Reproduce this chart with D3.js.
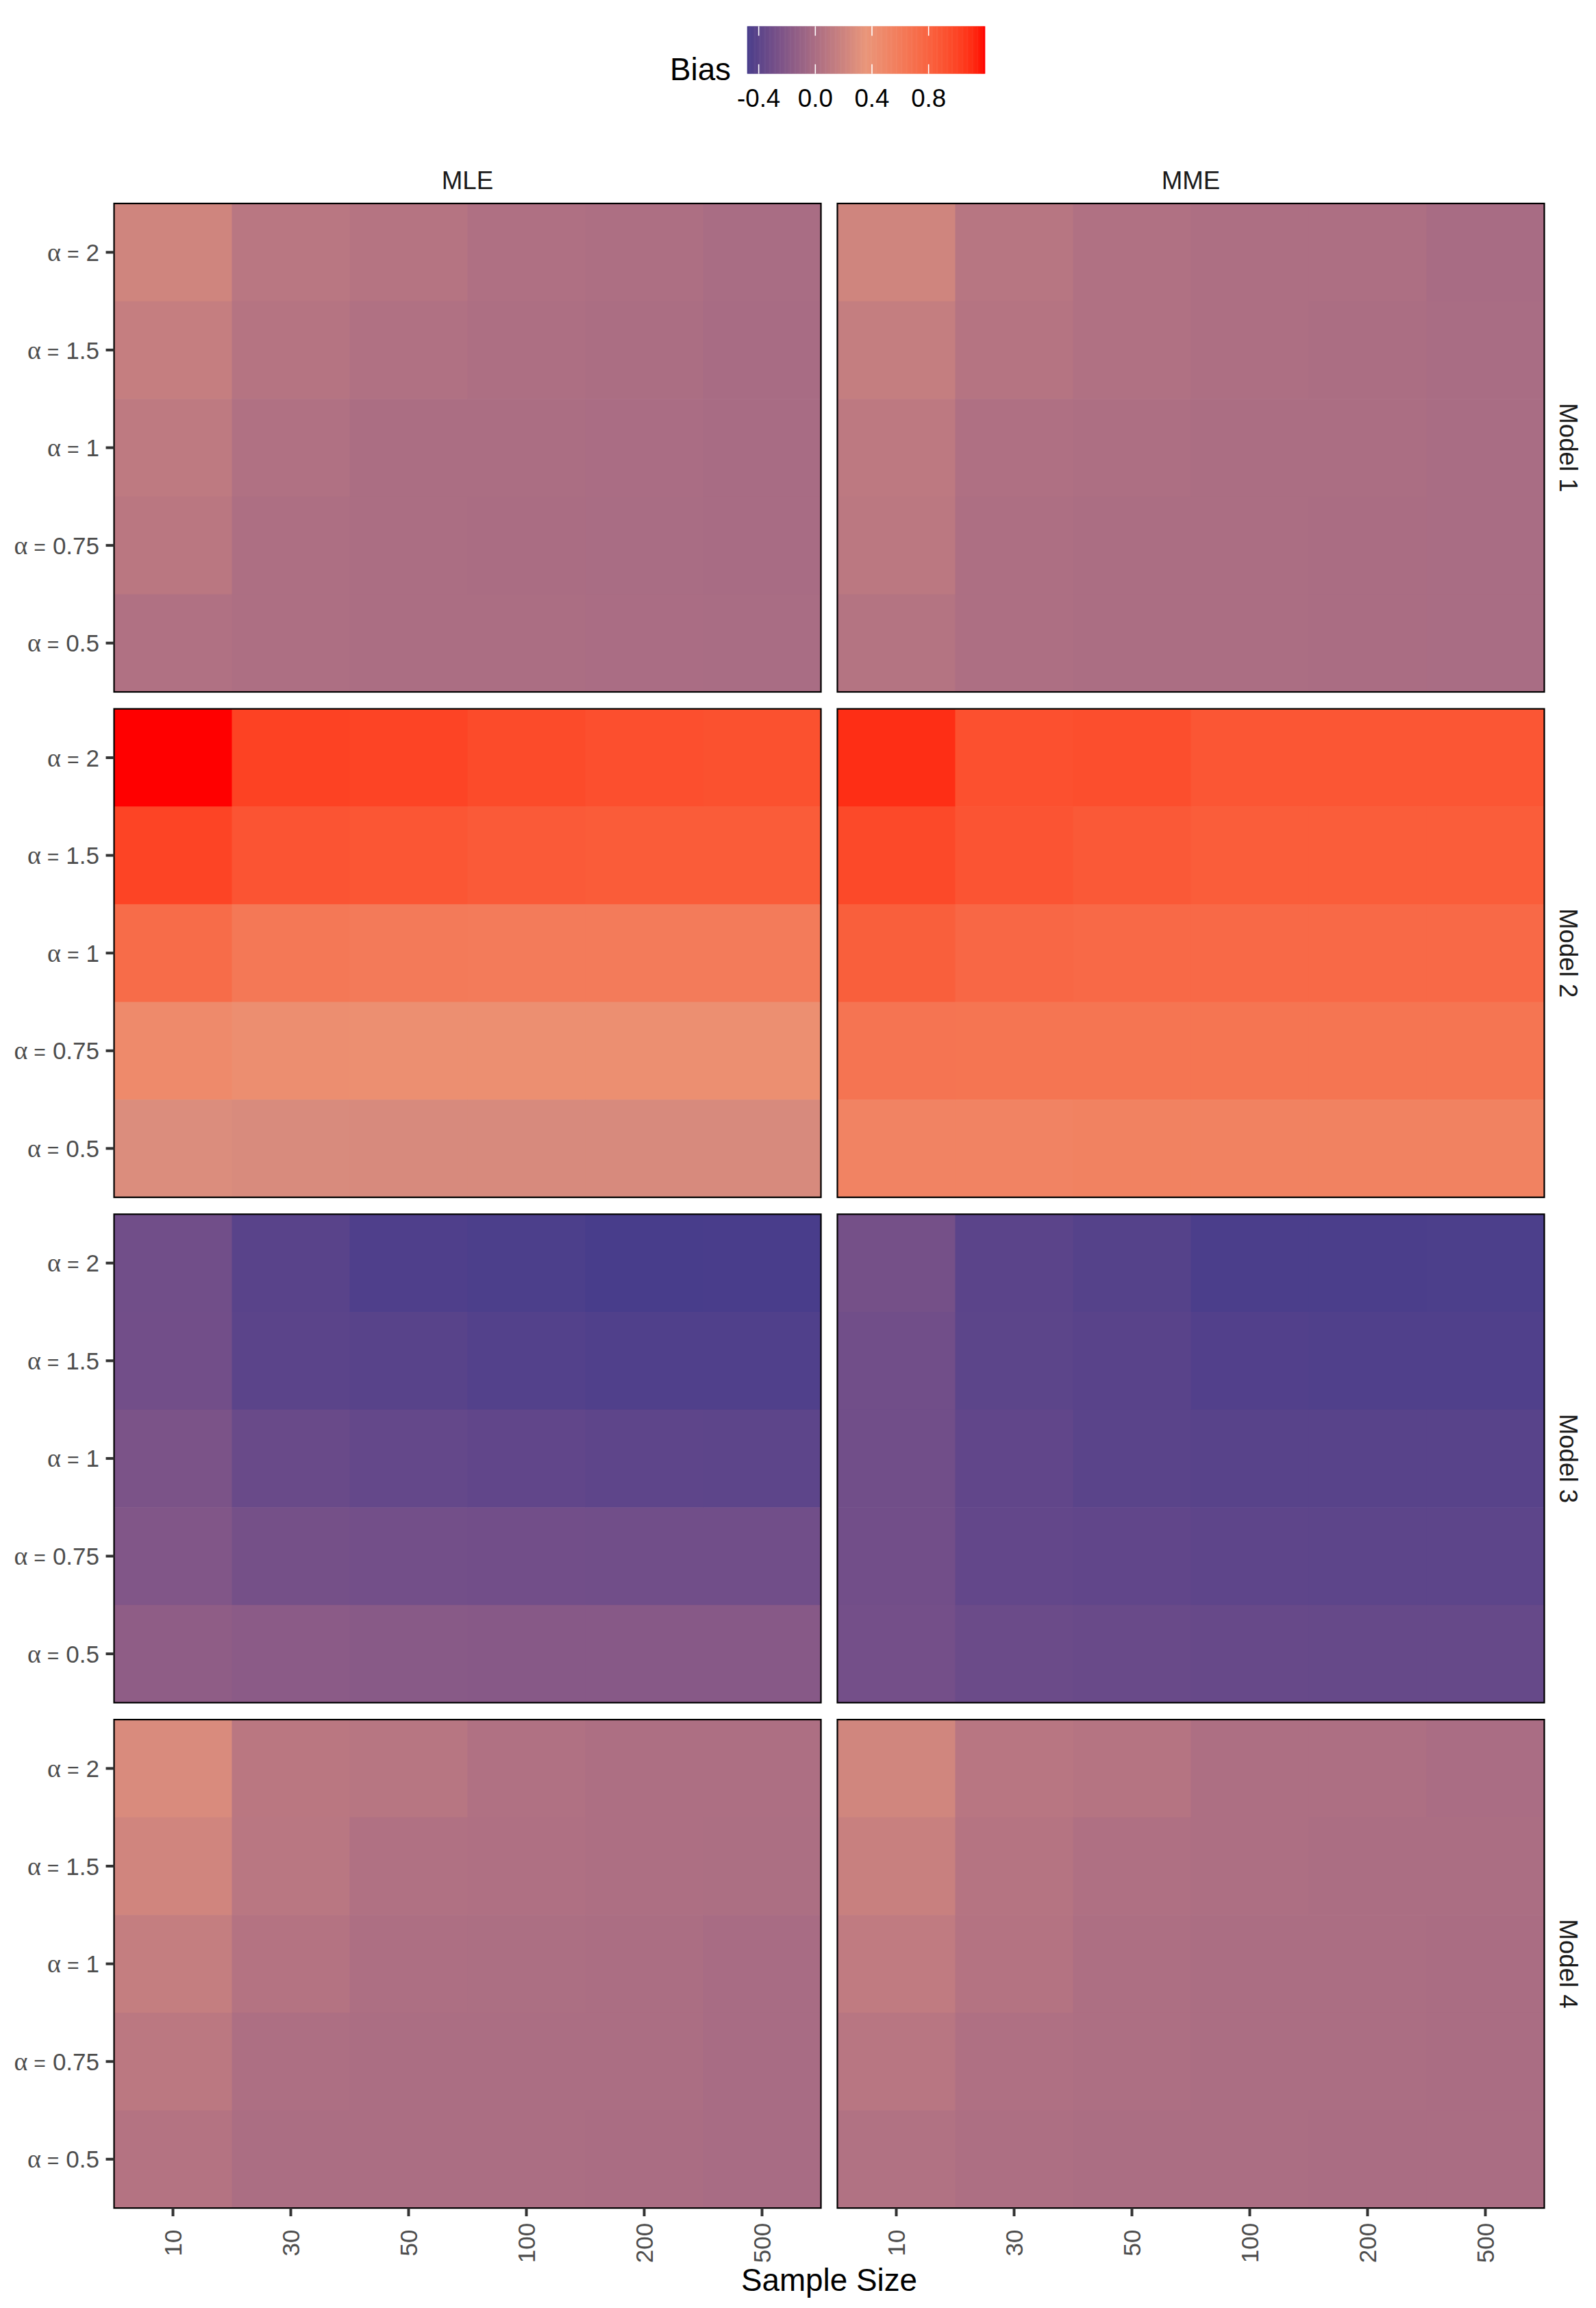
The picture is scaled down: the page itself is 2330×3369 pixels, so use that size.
<!DOCTYPE html>
<html>
<head>
<meta charset="utf-8">
<script src="https://cdn.jsdelivr.net/npm/d3@7/dist/d3.min.js"></script>
<style>
  html, body { margin: 0; padding: 0; background: #ffffff; }
  svg { display: block; }
  text { font-family: "Liberation Sans", Arial, Helvetica, sans-serif; }
</style>
</head>
<body>
<script>
// ---------------- data ----------------
const sampleSizes = ["10", "30", "50", "100", "200", "500"];
const alphaLevels = ["2", "1.5", "1", "0.75", "0.5"];   // top to bottom
const methods = ["MLE", "MME"];
const models = ["Model 1", "Model 2", "Model 3", "Model 4"];
const legendTicks = [-0.4, 0.0, 0.4, 0.8];
const fillColours = ["darkslateblue", "darksalmon", "red"];

// rows follow alphaLevels, columns follow sampleSizes
const biasModel1MLE = [
  [0.21, 0.085, 0.06, 0.024, 0.013, -0.008],
  [0.15, 0.063, 0.03, 0.013, 0.007, -0.01],
  [0.114, 0.03, 0.004, 0.002, -0.004, -0.01],
  [0.09, 0.018, 0.004, 0.0, -0.005, -0.01],
  [0.03, 0.013, 0.007, 0.002, -0.004, -0.008]
];
const biasModel1MME = [
  [0.21, 0.074, 0.035, 0.018, 0.013, -0.01],
  [0.147, 0.063, 0.03, 0.013, 0.004, -0.008],
  [0.105, 0.024, 0.013, 0.007, 0.002, -0.005],
  [0.095, 0.018, 0.007, 0.002, -0.002, -0.005],
  [0.055, 0.013, 0.007, 0.002, -0.002, -0.005]
];
const biasModel2MLE = [
  [1.197, 1.01, 1.0, 0.96, 0.935, 0.925],
  [1.0, 0.9, 0.89, 0.86, 0.85, 0.85],
  [0.73, 0.63, 0.61, 0.605, 0.605, 0.605],
  [0.47, 0.43, 0.425, 0.425, 0.425, 0.425],
  [0.276, 0.26, 0.253, 0.253, 0.253, 0.253]
];
const biasModel2MME = [
  [1.1, 0.93, 0.94, 0.89, 0.89, 0.888],
  [0.97, 0.9, 0.87, 0.845, 0.845, 0.845],
  [0.83, 0.765, 0.75, 0.75, 0.75, 0.75],
  [0.665, 0.66, 0.66, 0.66, 0.66, 0.66],
  [0.53, 0.53, 0.545, 0.545, 0.545, 0.545]
];
const biasModel3MLE = [
  [-0.305, -0.415, -0.455, -0.465, -0.482, -0.478],
  [-0.3, -0.405, -0.42, -0.44, -0.45, -0.45],
  [-0.255, -0.34, -0.365, -0.38, -0.39, -0.395],
  [-0.225, -0.285, -0.295, -0.3, -0.305, -0.305],
  [-0.15, -0.17, -0.185, -0.19, -0.19, -0.19]
];
const biasModel3MME = [
  [-0.285, -0.405, -0.43, -0.47, -0.47, -0.465],
  [-0.305, -0.4, -0.415, -0.445, -0.45, -0.45],
  [-0.305, -0.38, -0.41, -0.42, -0.42, -0.42],
  [-0.3, -0.37, -0.38, -0.39, -0.395, -0.395],
  [-0.29, -0.33, -0.34, -0.35, -0.355, -0.355]
];
const biasModel4MLE = [
  [0.265, 0.09, 0.074, 0.03, 0.018, 0.016],
  [0.214, 0.085, 0.035, 0.024, 0.013, 0.012],
  [0.147, 0.052, 0.013, 0.012, 0.002, -0.01],
  [0.097, 0.018, 0.007, 0.007, 0.002, -0.01],
  [0.052, 0.007, 0.004, 0.002, -0.002, -0.01]
];
const biasModel4MME = [
  [0.215, 0.08, 0.058, 0.018, 0.013, -0.004],
  [0.17, 0.063, 0.024, 0.013, 0.007, 0.004],
  [0.125, 0.052, 0.013, 0.007, 0.002, 0.0],
  [0.08, 0.024, 0.013, 0.007, 0.002, 0.0],
  [0.04, 0.013, 0.007, 0.002, 0.0, 0.0]
];
const biasTables = [
  [biasModel1MLE, biasModel1MME],
  [biasModel2MLE, biasModel2MME],
  [biasModel3MLE, biasModel3MME],
  [biasModel4MLE, biasModel4MME]
];

// ---------------- colour interpolation (CIELAB, D65) ----------------
function toLab(c) {
  const r = d3.rgb(c);
  const lin = v => { v /= 255; return v <= 0.04045 ? v / 12.92 : Math.pow((v + 0.055) / 1.055, 2.4); };
  const R = lin(r.r), G = lin(r.g), B = lin(r.b);
  const X = (0.4124 * R + 0.3576 * G + 0.1805 * B) / 0.95047;
  const Y = (0.2126 * R + 0.7152 * G + 0.0722 * B);
  const Z = (0.0193 * R + 0.1192 * G + 0.9505 * B) / 1.08883;
  const f = t => t > 0.008856 ? Math.cbrt(t) : (7.787 * t + 16 / 116);
  const fx = f(X), fy = f(Y), fz = f(Z);
  return { L: 116 * fy - 16, a: 500 * (fx - fy), b: 200 * (fy - fz) };
}
function fromLab(L, a, b) {
  const fy = (L + 16) / 116, fx = fy + a / 500, fz = fy - b / 200;
  const finv = t => t > 0.206893 ? t * t * t : (t - 16 / 116) / 7.787;
  const X = finv(fx) * 0.95047, Y = finv(fy), Z = finv(fz) * 1.08883;
  let R = 3.2406 * X - 1.5372 * Y - 0.4986 * Z;
  let G = -0.9689 * X + 1.8758 * Y + 0.0415 * Z;
  let B = 0.0557 * X - 0.2040 * Y + 1.0570 * Z;
  const gam = v => { v = Math.max(0, Math.min(1, v)); return 255 * (v <= 0.0031308 ? 12.92 * v : 1.055 * Math.pow(v, 1 / 2.4) - 0.055); };
  return d3.rgb(gam(R), gam(G), gam(B)).formatHex();
}
function interpolateLabD65(c1, c2) {
  const A = toLab(c1), B = toLab(c2);
  return t => fromLab(A.L + (B.L - A.L) * t, A.a + (B.a - A.a) * t, A.b + (B.b - A.b) * t);
}

const allValues = biasTables.flat(3);
const [vMin, vMax] = d3.extent(allValues);
const colour = d3.scaleLinear()
  .domain([vMin, (vMin + vMax) / 2, vMax])
  .range(fillColours)
  .interpolate(interpolateLabD65);

// ---------------- layout ----------------
const W = 2330, H = 3369;
const panelLeft = 166.5, panelW = 1032, colGap = 24;
const panelTop = 297, panelH = 713, rowGap = 24.7;
const colX = i => panelLeft + i * (panelW + colGap);
const rowY = i => panelTop + i * (panelH + rowGap);

const svg = d3.select("body").append("svg")
  .attr("width", W).attr("height", H)
  .attr("viewBox", `0 0 ${W} ${H}`);
svg.append("rect").attr("width", W).attr("height", H).attr("fill", "#ffffff");

const x = d3.scaleBand().domain(sampleSizes).range([0, panelW]);
const y = d3.scaleBand().domain(alphaLevels).range([0, panelH]);

const axisTextSize = 35, stripTextSize = 36.7, titleSize = 45.8;

models.forEach((model, mi) => {
  methods.forEach((method, ci) => {
    const table = biasTables[mi][ci];
    const g = svg.append("g").attr("transform", `translate(${colX(ci)},${rowY(mi)})`);
    const cells = [];
    alphaLevels.forEach((a, ai) => sampleSizes.forEach((n, ni) => cells.push({ a, n, v: table[ai][ni] })));
    g.selectAll("rect.tile").data(cells).enter().append("rect")
      .attr("class", "tile")
      .attr("x", d => x(d.n))
      .attr("y", d => y(d.a))
      .attr("width", x.bandwidth() + 0.6)
      .attr("height", y.bandwidth() + 0.6)
      .attr("fill", d => colour(d.v));
    g.append("rect")
      .attr("x", 0).attr("y", 0).attr("width", panelW).attr("height", panelH)
      .attr("fill", "none").attr("stroke", "#000000").attr("stroke-width", 2.2);

    // y axis (left column only)
    if (ci === 0) {
      const ya = g.append("g");
      alphaLevels.forEach(a => {
        const cy = y(a) + y.bandwidth() / 2;
        ya.append("line").attr("x1", -12).attr("x2", 0).attr("y1", cy).attr("y2", cy)
          .attr("stroke", "#333333").attr("stroke-width", 4);
        const t = ya.append("text")
          .attr("x", -21.5).attr("y", cy).attr("dy", "0.36em")
          .attr("text-anchor", "end").attr("fill", "#4D4D4D")
          .attr("font-size", axisTextSize);
        t.append("tspan").attr("font-family", "'Liberation Serif', 'DejaVu Serif', serif")
          .attr("font-size", 38).text("α");
        t.append("tspan").attr("dx", 9).attr("font-size", 30).text("=");
        t.append("tspan").attr("dx", 10).text(a);
      });
    }
    // x axis (bottom row only)
    if (mi === models.length - 1) {
      const xa = g.append("g").attr("transform", `translate(0,${panelH})`);
      sampleSizes.forEach(n => {
        const cx = x(n) + x.bandwidth() / 2;
        xa.append("line").attr("x1", cx).attr("x2", cx).attr("y1", 0).attr("y2", 12)
          .attr("stroke", "#333333").attr("stroke-width", 4);
        xa.append("text")
          .attr("transform", `translate(${cx},${51}) rotate(-90)`)
          .attr("dy", "0.36em")
          .attr("text-anchor", "middle").attr("fill", "#4D4D4D")
          .attr("font-size", axisTextSize).text(n);
      });
    }
    // top strips
    if (mi === 0) {
      svg.append("text")
        .attr("x", colX(ci) + panelW / 2).attr("y", 276)
        .attr("text-anchor", "middle").attr("fill", "#1A1A1A")
        .attr("font-size", stripTextSize).text(method);
    }
  });
  // right strips
  const cy = rowY(mi) + panelH / 2;
  svg.append("text")
    .attr("transform", `translate(2277,${cy}) rotate(90)`)
    .attr("text-anchor", "middle").attr("fill", "#1A1A1A")
    .attr("font-size", stripTextSize).text(model);
});

// x axis title
svg.append("text")
  .attr("x", colX(0) + (2 * panelW + colGap) / 2).attr("y", 3344)
  .attr("text-anchor", "middle").attr("fill", "#000000")
  .attr("font-size", titleSize).text("Sample Size");

// ---------------- legend ----------------
const legX0 = 1090.7, legW = 347, legY0 = 38.3, legH = 69.4;
const legScale = d3.scaleLinear().domain([vMin, vMax]).range([legX0, legX0 + legW]);
const nbin = 300;
const binVals = d3.range(nbin).map(i => vMin + (vMax - vMin) * (i + 0.5) / nbin);
const lg = svg.append("g");
lg.selectAll("rect.bin").data(binVals).enter().append("rect")
  .attr("class", "bin")
  .attr("x", d => legScale(d) - legW / nbin / 2)
  .attr("y", legY0)
  .attr("width", legW / nbin + 0.6)
  .attr("height", legH)
  .attr("fill", d => colour(d));
legendTicks.forEach(v => {
  const tx = legScale(v);
  lg.append("line").attr("x1", tx).attr("x2", tx).attr("y1", legY0).attr("y2", legY0 + legH * 0.2)
    .attr("stroke", "#ffffff").attr("stroke-width", 1.6);
  lg.append("line").attr("x1", tx).attr("x2", tx).attr("y1", legY0 + legH * 0.8).attr("y2", legY0 + legH)
    .attr("stroke", "#ffffff").attr("stroke-width", 1.6);
  lg.append("text").attr("x", tx).attr("y", 156)
    .attr("text-anchor", "middle").attr("fill", "#000000")
    .attr("font-size", stripTextSize).text(v.toFixed(1));
});
lg.append("text").attr("x", 1067).attr("y", 117)
  .attr("text-anchor", "end").attr("fill", "#000000")
  .attr("font-size", titleSize).text("Bias");
</script>
</body>
</html>
